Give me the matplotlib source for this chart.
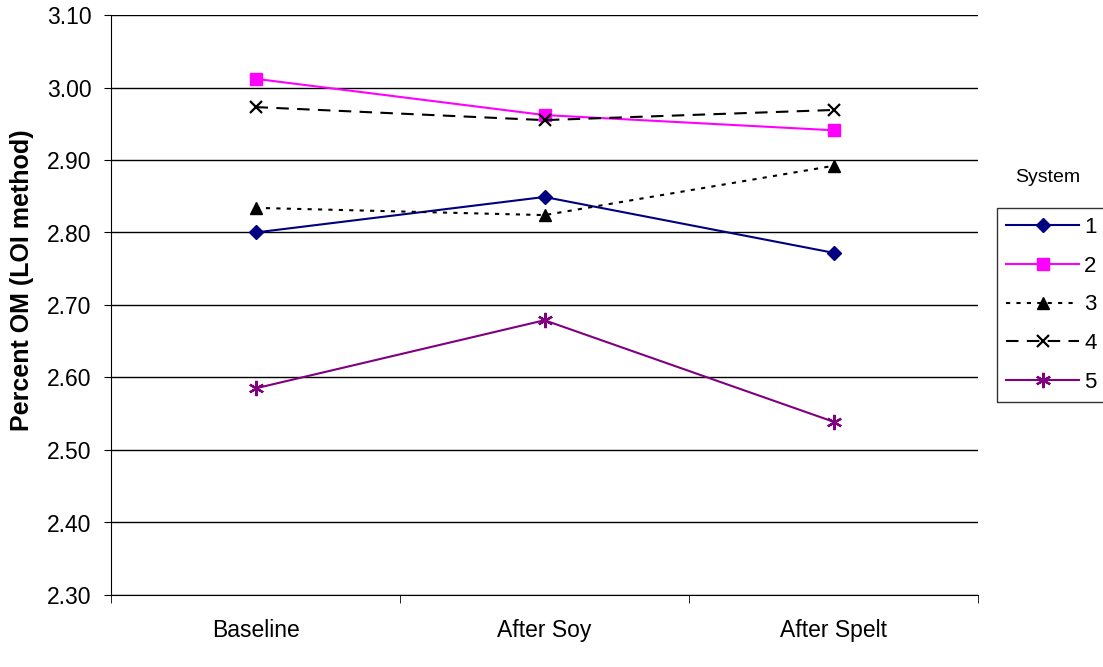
import matplotlib
matplotlib.use("Agg")
import matplotlib.pyplot as plt
import numpy as np

plt.rcParams['font.family'] = ['Liberation Sans', 'DejaVu Sans']

categories = ["Baseline", "After Soy", "After Spelt"]
systems = ["1", "2", "3", "4", "5"]
sys1 = [2.800, 2.849, 2.772]
sys2 = [3.012, 2.962, 2.941]
sys3 = [2.834, 2.824, 2.892]
sys4 = [2.973, 2.955, 2.969]
sys5 = [2.585, 2.679, 2.539]
yticks = [2.30, 2.40, 2.50, 2.60, 2.70, 2.80, 2.90, 3.00, 3.10]

styles = [
    dict(color='#000080', marker='D', markersize=7.5, linestyle='-'),
    dict(color='#FF00FF', marker='s', markersize=8, linestyle='-'),
    dict(color='black', marker='^', markersize=9, linestyle=(0, (2, 3))),
    dict(color='black', marker='x', markersize=9, markeredgewidth=1.6, linestyle=(0, (6, 4))),
    dict(color='#800080', marker=(6, 2, 0), markersize=11, markeredgewidth=1.6, linestyle='-'),
]

fig = plt.figure(figsize=(11.03, 6.67), dpi=100)
ax = fig.add_axes([111 / 1103, 1 - 595 / 667, (978 - 111) / 1103, (595 - 15) / 667])

x = np.arange(len(categories))
for name, vals, st in zip(systems, [sys1, sys2, sys3, sys4, sys5], styles):
    ax.plot(x, vals, linewidth=1.5, label=name, **st)

ax.set_xlim(-0.5, 2.5)
ax.set_ylim(2.30, 3.10)
ax.set_yticks(yticks)
ax.set_yticklabels([f"{v:.2f}" for v in yticks], fontsize=16.5)
ax.set_xticks(x)
ax.set_xticklabels(categories, fontsize=16.5)
ax.set_xticks([-0.5, 0.5, 1.5, 2.5], minor=True)
ax.tick_params(axis='x', which='major', length=0, pad=17)
ax.tick_params(axis='x', which='minor', length=6, direction='out')
ax.tick_params(axis='y', length=5, direction='out', pad=9)
ax.yaxis.grid(True, color='black', linewidth=1)
ax.set_axisbelow(True)
for s in ['top', 'right']:
    ax.spines[s].set_visible(False)
for s in ['left', 'bottom']:
    ax.spines[s].set_color('black')

fig.text(22 / 1103, 1 - 280 / 667, "Percent OM (LOI method)", fontsize=18,
         fontweight='bold', rotation=90, ha='center', va='center')

leg = fig.legend(loc='upper left', bbox_to_anchor=(997 / 1103, 1 - 208 / 667),
                 borderaxespad=0, frameon=True, fancybox=False, edgecolor='black',
                 fontsize=16, handlelength=3.3, labelspacing=0.8, borderpad=0.4,
                 handletextpad=0.22)
leg.get_frame().set_linewidth(1)
fig.text(1048 / 1103, 1 - 178 / 667, "System", fontsize=14, ha='center', va='center')

fig.savefig("out.png", dpi=100)
